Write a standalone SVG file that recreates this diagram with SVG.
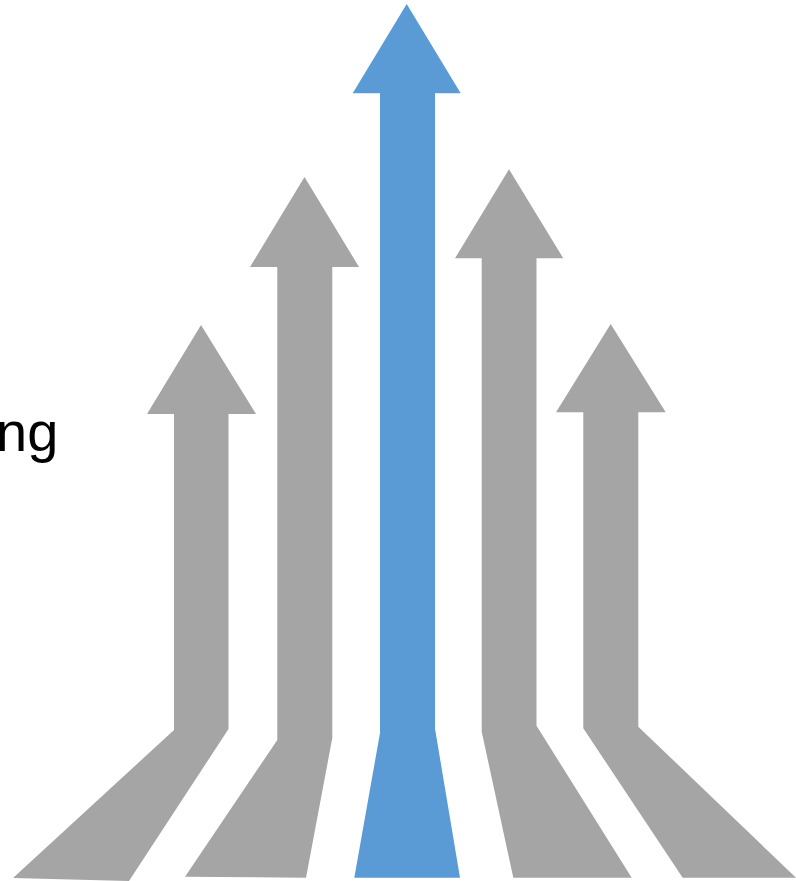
<svg xmlns="http://www.w3.org/2000/svg" width="796" height="881" viewBox="0 0 796 881">
<style>
.g{fill:#A5A5A5}
.b{fill:#5B9BD5}
.t{font-family:"Liberation Sans",Arial,sans-serif;font-size:56px;fill:#000}
</style>
<rect width="796" height="881" fill="#fff"/>
<g id="arrow1"><polygon class="g" points="201,325 256,414 228.5,414 228.5,729 129,881 13,878 174,730 174,414 147,414"/></g>
<g id="arrow2"><polygon class="g" points="304.5,177 359,267 332.3,267 332.3,738 306,877.7 185,876.7 277.3,740 277.3,267 250,267"/></g>
<g id="arrow3"><polygon class="b" points="406.7,4 460.7,93.3 435,93.3 435,728.5 460,877.7 354.3,877.7 380,733 380,93.3 352.7,93.3"/></g>
<g id="arrow4"><polygon class="g" points="509,169.3 563.3,258.3 536.5,258.3 536.5,725.7 631.7,877.7 513.3,877.7 481.7,731.7 481.7,258.3 455,258.3"/></g>
<g id="arrow5"><polygon class="g" points="610.7,324 665.7,412.3 638.3,412.3 638.3,726.7 796,877.7 682.7,877.7 583.3,728.3 583.3,412.3 556,412.3"/></g>
<g id="label"><text class="t" x="-4" y="451">ng</text></g>
</svg>
